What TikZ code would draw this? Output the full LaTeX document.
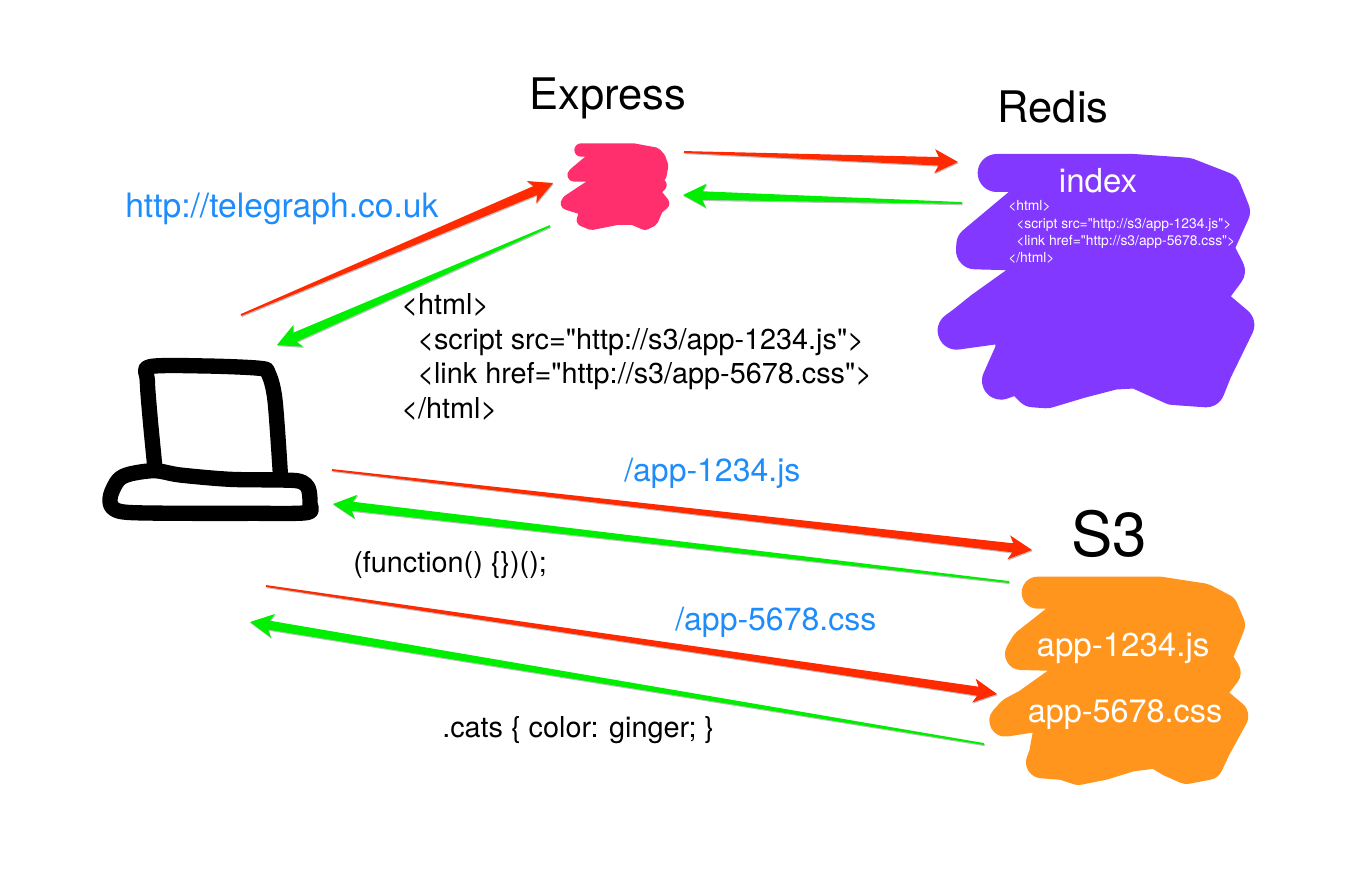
\documentclass[tikz,border=0pt]{standalone}
\usepackage{fontspec}
\setmainfont{TeX Gyre Heros}[Ligatures=TeXOff]
\usetikzlibrary{calc}
\usetikzlibrary{shadows}

\definecolor{blobpink}{RGB}{255,47,110}
\definecolor{blobpurple}{RGB}{131,56,255}
\definecolor{bloborange}{RGB}{255,149,28}
\definecolor{arrowred}{RGB}{255,42,0}
\definecolor{arrowgreen}{RGB}{0,238,0}
\definecolor{linkblue}{RGB}{30,140,250}

\tikzset{
    every node/.style={inner sep=0pt},
    title/.style={font=\fontsize{32.6}{38}\selectfont},
    linktext/.style={text=linkblue,font=\fontsize{24}{29}\selectfont},
    codetext/.style={font=\fontsize{21.6}{26.2}\selectfont,align=left},
    blobtext/.style={text=white,font=\fontsize{24.8}{29}\selectfont},
    smallcode/.style={text=white,font=\fontsize{10.4}{12.8}\selectfont,align=left},
    blob/.style={line join=round,line cap=round},
    flow/.style={drop shadow={shadow xshift=0.5pt,shadow yshift=-0.9pt,fill=black,opacity=0.25}}
}

% thin tail, fat neck, swept head: from, to, colour, half width of the neck
\newcommand{\taper}[4]{%
    \coordinate (neck) at ($(#2)!14.5pt!(#1)$);
    \coordinate (barb) at ($(#2)!17.5pt!(#1)$);
    \fill[#3,flow] ($(#1)!0.7pt!90:(#2)$) -- ($(neck)!#4!90:(#2)$) -- ($(barb)!9pt!90:(#2)$)
        -- (#2) -- ($(barb)!9pt!-90:(#2)$) -- ($(neck)!#4!-90:(#2)$) -- ($(#1)!0.7pt!-90:(#2)$) -- cycle;
}

\begin{document}
\begin{tikzpicture}[x=0.75pt,y=-0.75pt]
    \useasboundingbox (0,0) rectangle (1348,870);

    % Express blob
    \begin{scope}[shift={(520,120)},scale=0.3333]
        \filldraw[blobpink,blob,line width=10pt] (183,90) -- (340,90) -- (405,102) -- (417,115) -- (425,138)
            -- (420,165) -- (405,175) -- (420,195) -- (400,215) -- (428,250) -- (410,265) -- (395,300)
            -- (375,310) -- (340,295) -- (290,295) -- (215,310) -- (190,300) -- (200,268) -- (142,250)
            -- (147,243) -- (200,208) -- (267,165) -- (162,165) -- (173,155) -- (203,130) -- (251,90) -- cycle;
    \end{scope}

    % Redis blob
    \begin{scope}[shift={(920,140)},scale=0.3333]
        \filldraw[blobpurple,blob,line width=28.5pt] (230,99) -- (640,99) -- (800,110) -- (908,152) -- (933,215)
            -- (883,325) -- (918,393) -- (855,478) -- (946,555) -- (880,690) -- (858,745) -- (760,738)
            -- (650,688) -- (580,692) -- (480,718) -- (380,748) -- (340,745) -- (297,703) -- (243,722)
            -- (283,632) -- (283,548) -- (110,572) -- (137,552) -- (188,511) -- (430,338) -- (165,331)
            -- (166,314) -- (276,222) -- (424,99) -- cycle;
    \end{scope}

    % S3 blob
    \begin{scope}[shift={(970,560)},scale=0.3333]
        \filldraw[bloborange,blob,line width=24pt] (203,98) -- (570,98) -- (700,118) -- (757,148) -- (777,195)
            -- (737,295) -- (764,338) -- (712,405) -- (787,468) -- (734,565) -- (712,612) -- (650,624)
            -- (600,602) -- (560,577) -- (480,587) -- (400,612) -- (325,627) -- (280,612) -- (216,607)
            -- (225,583) -- (247,460) -- (106,482) -- (128,458) -- (173,434) -- (378,288) -- (153,282)
            -- (170,253) -- (240,198) -- (367,98) -- cycle;
    \end{scope}

    % Laptop
    \begin{scope}[shift={(90,340)},scale=0.3333]
        \draw[line width=11.5pt,line join=round,line cap=round] plot[smooth,tension=0.5] coordinates {(195,385) (180,230) (172,120) (180,80)
            (350,78) (510,85) (535,100) (555,180) (572,415)};
        \draw[line width=11.5pt,line join=round] plot[smooth cycle,tension=0.5] coordinates {(195,392) (270,405) (420,418) (570,420)
            (630,424) (655,445) (660,490) (650,518) (480,520) (300,520) (110,517) (65,500) (62,465) (85,420) (120,402)};
    \end{scope}

    % Titles and labels
    \node[title] (express) at (608,98) {Express};
    \node[title] (redis) at (1053,107) {Redis};
    \node[title,font=\fontsize{46.5}{50}\selectfont] (sthree) at (1109,534) {S3};
    \node[blobtext] (index) at (1098,181) {index};
    \node[smallcode,anchor=west] (indexcode) at (1008,232) {<html>\\\hspace*{6pt}<script src="http://s3/app-1234.js">\\\hspace*{6pt}<link href="http://s3/app-5678.css">\\</html>};
    \node[linktext,font=\fontsize{25.2}{30}\selectfont,anchor=west] (telegraph) at (125,209) {http://telegraph.co.uk};
    \node[codetext,anchor=west] (htmlcode) at (401,357) {<html>\\\hspace*{12pt}<script src="http://s3/app-1234.js">\\\hspace*{12pt}<link href="http://s3/app-5678.css">\\</html>};
    \node[linktext,anchor=west] (jspath) at (624,473) {/app-1234.js};
    \node[linktext,anchor=west] (csspath) at (675,622) {/app-5678.css};
    \node[codetext,anchor=west] (jsbody) at (353,565) {(function() \{\})();};
    \node[codetext,anchor=west] (cssbody) at (442,730) {.cats \{ color: ginger; \}};
    \node[blobtext] (jsfile) at (1123,648) {app-1234.js};
    \node[blobtext,font=\fontsize{24.3}{29}\selectfont] (cssfile) at (1125,715) {app-5678.css};

    % Ends of the arrows
    \coordinate (Q1a) at (241,315);
    \coordinate (Q1b) at (553,183);
    \coordinate (P1a) at (550,226);
    \coordinate (P1b) at (277,345);
    \coordinate (Q2a) at (684,152);
    \coordinate (Q2b) at (958,162);
    \coordinate (P2a) at (962,203);
    \coordinate (P2b) at (683,195);
    \coordinate (Q3a) at (332,470);
    \coordinate (Q3b) at (1032,550);
    \coordinate (P3a) at (1009,582);
    \coordinate (P3b) at (333,504);
    \coordinate (Q4a) at (266,586);
    \coordinate (Q4b) at (997,694);
    \coordinate (P4a) at (984,744);
    \coordinate (P4b) at (250,622);

    % Requests in red, answers in green
    \taper{Q1a}{Q1b}{arrowred}{3.6pt}
    \taper{P1a}{P1b}{arrowgreen}{3.6pt}
    \taper{Q2a}{Q2b}{arrowred}{3.2pt}
    \taper{P2a}{P2b}{arrowgreen}{3.2pt}
    \taper{Q3a}{Q3b}{arrowred}{3.4pt}
    \taper{P3a}{P3b}{arrowgreen}{3.4pt}
    \taper{Q4a}{Q4b}{arrowred}{3.4pt}
    \taper{P4a}{P4b}{arrowgreen}{3.4pt}
\end{tikzpicture}
\end{document}
